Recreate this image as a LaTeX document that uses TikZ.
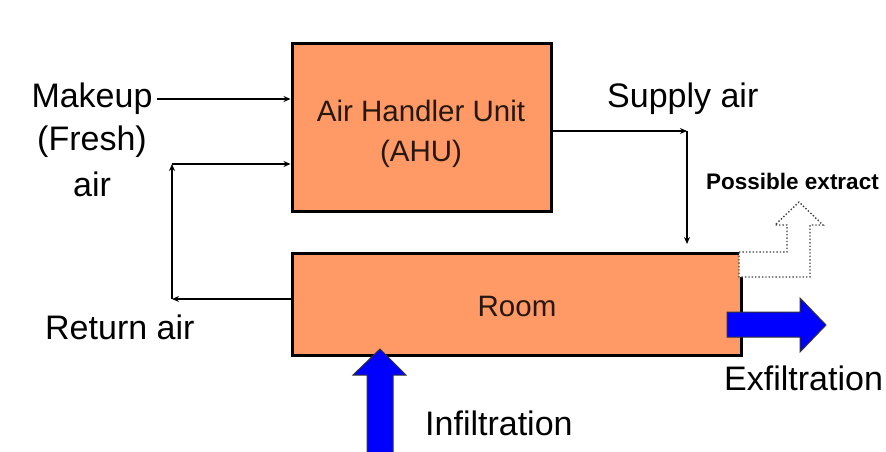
\documentclass[tikz,border=0pt]{standalone}
\usepackage{fontspec}
\setmainfont{Liberation Sans}
\usetikzlibrary{arrows.meta}
\definecolor{boxorange}{HTML}{FF9966}
\definecolor{arrowblue}{HTML}{0000FF}
\tikzset{
  box/.style={draw=black, line width=3pt, fill=boxorange, rectangle, inner sep=0pt},
  flow/.style={draw=black, line width=2pt, -{Stealth[length=7pt,width=6pt]}},
  lbl/.style={inner sep=0pt, font=\fontsize{34}{40}\selectfont},
  boxtxt/.style={inner sep=0pt, font=\fontsize{29.5}{34}\selectfont, text=black!85!boxorange},
  bluearrow/.style={fill=arrowblue, draw=black!80, line width=1pt, line join=miter},
  extractarrow/.style={fill=white, draw=black!75, line width=1.4pt, dotted}
}
\begin{document}
\begin{tikzpicture}[x=1pt,y=-1pt]
\useasboundingbox (0,0) rectangle (886,452);
% boxes
\node[box, minimum width=259pt, minimum height=167pt] (ahu) at (421.5,127.5) {};
\node[box, minimum width=449pt, minimum height=102pt] (room) at (516.5,304) {};
% box texts
\node[boxtxt, anchor=base] (ahut1) at (421,121) {Air Handler Unit};
\node[boxtxt, anchor=base] (ahut2) at (421,161) {(AHU)};
\node[boxtxt, anchor=base] (roomt) at (517,316) {Room};
% labels
\node[lbl, anchor=base] (mk1) at (92,107) {Makeup};
\node[lbl, anchor=base] (mk2) at (92,150) {(Fresh)};
\node[lbl, anchor=base] (mk3) at (92,196) {air};
\node[lbl, anchor=base west] (sup) at (607,107) {Supply air};
\node[lbl, anchor=base west] (ret) at (45,339) {Return air};
\node[lbl, anchor=base west] (exf) at (724,390) {Exfiltration};
\node[lbl, anchor=base west] (inf) at (425,435) {Infiltration};
\node[inner sep=0pt, anchor=base west, font=\bfseries\fontsize{22.5}{26}\selectfont] (pex) at (706,189) {Possible extract};
% connector points
\coordinate (mkend) at (157,99);
\coordinate (r1) at (172,299);
\coordinate (r2) at (172,164);
\coordinate (s1) at (687,131);
\coordinate (s2) at (687,244);
% makeup
\draw[flow] (mkend) -- (mkend -| ahu.west);
% return air loop
\draw[flow] (room.west |- r1) -- (r1);
\draw[flow] (r1) -- (r2);
\draw[flow] (r2) -- (r2 -| ahu.west);
% supply air
\draw[flow] (ahu.east |- s1) -- (s1);
\draw[flow, line width=2.6pt] (s1) -- (s2);
% possible extract (dotted bent arrow)
\draw[extractarrow] (739,252) -- (787,252) -- (787,225) -- (775,225) -- (799,202)
  -- (823,225) -- (810,225) -- (810,277) -- (739,277) -- cycle;
% exfiltration arrow
\draw[bluearrow] (727,312) -- (800,312) -- (800,298) -- (826,325) -- (800,352)
  -- (800,337) -- (727,337) -- cycle;
% infiltration arrow
\draw[bluearrow] (367,455) -- (367,375) -- (353,375) -- (380,349) -- (406,375)
  -- (393,375) -- (393,455) -- cycle;
\end{tikzpicture}
\end{document}
